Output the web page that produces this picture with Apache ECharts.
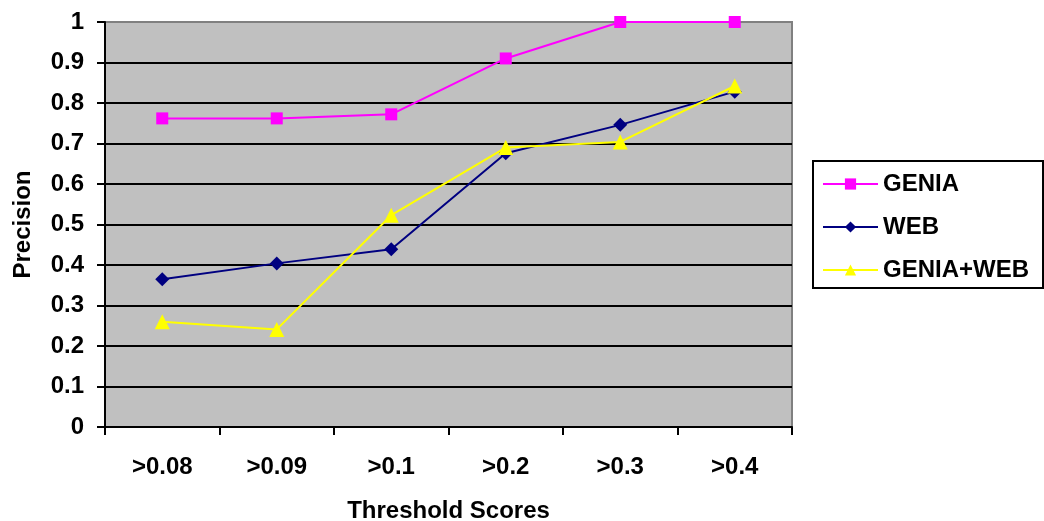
<!DOCTYPE html>
<html>
<head>
<meta charset="utf-8">
<script src="https://cdn.jsdelivr.net/npm/echarts@6/dist/echarts.min.js"></script>
<style>
  html, body { margin: 0; padding: 0; background: #fff; }
  #chart { width: 1044px; height: 521px; }
</style>
</head>
<body>
<div id="chart"></div>
<script>
// Threshold categories on the x axis
const thresholds = ['>0.08', '>0.09', '>0.1', '>0.2', '>0.3', '>0.4'];

// Precision per threshold for each resource
const geniaPrecision = [0.762, 0.762, 0.772, 0.910, 1.0, 1.0];
const webPrecision = [0.365, 0.404, 0.439, 0.676, 0.746, 0.828];
const geniaWebPrecision = [0.260, 0.241, 0.523, 0.690, 0.704, 0.842];

const font = 'Liberation Sans, Arial, sans-serif';

const chart = echarts.init(document.getElementById('chart'), null, { renderer: 'canvas' });

// grid lines are black, the one at the top edge blends into the grey frame
const splitColors = [];
for (let i = 0; i < 10; i++) splitColors.push('#000000');
splitColors.push('#808080');

chart.setOption({
  animation: false,
  backgroundColor: '#ffffff',
  grid: {
    left: 105, top: 22, right: 252, bottom: 94,
    outerBoundsMode: 'none',
    containLabel: false,
    show: true,
    backgroundColor: '#C0C0C0',
    borderColor: '#808080',
    borderWidth: 2
  },
  legend: {
    orient: 'vertical',
    left: 813, top: 161,
    padding: [10, 14, 5, 9],
    borderColor: '#000000',
    borderWidth: 2,
    backgroundColor: '#ffffff',
    itemWidth: 55,
    itemHeight: 14,
    itemGap: 17,
    textStyle: { fontFamily: font, fontWeight: 'bold', fontSize: 24, color: '#000', lineHeight: 26 },
    data: ['GENIA', 'WEB', 'GENIA+WEB']
  },
  xAxis: {
    type: 'category',
    data: thresholds,
    boundaryGap: true,
    name: 'Threshold Scores',
    nameLocation: 'middle',
    nameGap: 72,
    nameTextStyle: { fontFamily: font, fontWeight: 'bold', fontSize: 24, color: '#000' },
    axisLine: { lineStyle: { color: '#000', width: 2 } },
    axisTick: { show: true, length: 8, inside: false, alignWithLabel: false, lineStyle: { color: '#000', width: 2 } },
    axisLabel: { fontFamily: font, fontWeight: 'bold', fontSize: 24, color: '#000', margin: 28 },
    splitLine: { show: false }
  },
  yAxis: {
    type: 'value',
    min: 0, max: 1, interval: 0.1,
    name: 'Precision',
    nameLocation: 'middle',
    nameGap: 70,
    nameRotate: 90,
    nameTextStyle: { fontFamily: font, fontWeight: 'bold', fontSize: 24, color: '#000' },
    axisLine: { show: true, lineStyle: { color: '#000', width: 2 } },
    axisTick: { show: true, length: 8, inside: false, lineStyle: { color: '#000', width: 2 } },
    axisLabel: {
      fontFamily: font, fontWeight: 'bold', fontSize: 24, color: '#000', margin: 21,
      formatter: v => String(Math.round(v * 10) / 10)
    },
    splitLine: { show: true, lineStyle: { color: splitColors, width: 2 } }
  },
  series: [
    {
      name: 'GENIA', type: 'line', data: geniaPrecision,
      symbol: 'rect', symbolSize: 12,
      lineStyle: { color: '#FF00FF', width: 2 },
      itemStyle: { color: '#FF00FF' }
    },
    {
      name: 'WEB', type: 'line', data: webPrecision,
      symbol: 'diamond', symbolSize: 14,
      lineStyle: { color: '#000080', width: 2 },
      itemStyle: { color: '#000080' }
    },
    {
      name: 'GENIA+WEB', type: 'line', data: geniaWebPrecision,
      symbol: 'triangle', symbolSize: 15,
      lineStyle: { color: '#FFFF00', width: 2 },
      itemStyle: { color: '#FFFF00' }
    }
  ]
});
</script>
</body>
</html>
